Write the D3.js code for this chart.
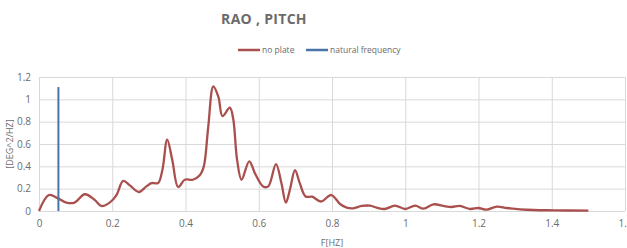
<!DOCTYPE html>
<html>
<head>
<meta charset="utf-8">
<script src="https://cdn.jsdelivr.net/npm/d3@7"></script>
<style>
  body { margin: 0; background: #fff; }
  text { font-family: "Liberation Sans Narrow", "Open Sans", sans-serif; fill: #6b6b6b; }
</style>
</head>
<body>
<div id="vis"></div>
<script>
// RAO pitch spectrum
var freq = [0, 0.027, 0.052, 0.075, 0.097, 0.125, 0.152, 0.17, 0.193, 0.211, 0.23, 0.248, 0.273, 0.293, 0.307, 0.325,
    0.337, 0.35, 0.364, 0.38, 0.398, 0.42, 0.439, 0.45, 0.462, 0.476, 0.49, 0.501, 0.521, 0.53, 0.541, 0.553,
    0.574, 0.59, 0.612, 0.626, 0.647, 0.662, 0.674, 0.685, 0.699, 0.712, 0.728, 0.746, 0.77, 0.798, 0.822,
    0.84, 0.858, 0.881, 0.904, 0.922, 0.944, 0.972, 1.0, 1.027, 1.05, 1.077, 1.104, 1.127, 1.149, 1.177,
    1.2, 1.222, 1.25, 1.277, 1.314, 1.35, 1.405, 1.5];
var noPlate = [0, 0.143, 0.113, 0.075, 0.075, 0.15, 0.10, 0.045, 0.075, 0.14, 0.27, 0.23, 0.17, 0.22, 0.25, 0.25,
    0.37, 0.64, 0.455, 0.215, 0.28, 0.28, 0.32, 0.40, 0.75, 1.115, 1.02, 0.85, 0.925, 0.83, 0.455, 0.28,
    0.445, 0.335, 0.22, 0.22, 0.42, 0.248, 0.075, 0.19, 0.365, 0.25, 0.13, 0.128, 0.085, 0.143, 0.063,
    0.03, 0.024, 0.045, 0.048, 0.03, 0.018, 0.048, 0.018, 0.048, 0.021, 0.06, 0.045, 0.036, 0.045, 0.018,
    0.027, 0.012, 0.039, 0.027, 0.015, 0.009, 0.006, 0.003];
var naturalFreq = [{ f: 0.053, v: 0 }, { f: 0.053, v: 1.11 }];

var xTicks = [0, 0.2, 0.4, 0.6, 0.8, 1, 1.2, 1.4, 1.6];
var yTicks = [0, 0.2, 0.4, 0.6, 0.8, 1, 1.2];

var W = 627, H = 248;
var margin = { top: 77, right: 2, bottom: 37, left: 39 },
    width = W - margin.left - margin.right,
    height = H - margin.top - margin.bottom;

var root = d3.select("#vis").append("svg")
    .attr("width", W)
    .attr("height", H);

var svg = root.append("g")
    .attr("transform", "translate(" + margin.left + "," + margin.top + ")");

var x = d3.scaleLinear().domain([0, 1.6]).range([0, width]);
var y = d3.scaleLinear().domain([0, 1.2]).range([height, 0]);

// grid
svg.append("g")
    .attr("transform", "translate(0," + height + ")")
    .call(d3.axisBottom(x).tickValues(xTicks).tickSize(-height).tickPadding(9)
        .tickFormat(d => d3.format("")(d)))
    .call(g => g.select(".domain").remove())
    .call(g => g.selectAll("line").attr("stroke", "#d9d9d9"))
    .call(g => g.selectAll("text").attr("font-size", 10).attr("fill", "#767676"));

svg.append("g")
    .call(d3.axisLeft(y).tickValues(yTicks).tickSize(-width).tickPadding(8)
        .tickFormat(d => d3.format("")(d)))
    .call(g => g.select(".domain").remove())
    .call(g => g.selectAll("line").attr("stroke", "#d9d9d9"))
    .call(g => g.selectAll("text").attr("font-size", 10).attr("fill", "#767676"));

var data = freq.map((f, i) => ({ f: f, v: noPlate[i] }));

svg.append("path")
    .datum(data)
    .attr("fill", "none")
    .attr("stroke", "#a9504e")
    .attr("stroke-width", 2.3)
    .attr("d", d3.line()
        .x(d => x(d.f))
        .y(d => y(d.v))
        .curve(d3.curveCatmullRom.alpha(0.5)));

svg.append("path")
    .datum(naturalFreq)
    .attr("fill", "none")
    .attr("stroke", "#4a74a8")
    .attr("stroke-width", 2)
    .attr("d", d3.line().x(d => x(d.f)).y(d => y(d.v)));

// titles
root.append("text")
    .attr("x", 264).attr("y", 24)
    .attr("text-anchor", "middle")
    .attr("font-size", 14).attr("font-weight", "bold")
    .attr("letter-spacing", 0.3)
    .style("fill", "#6b6b6b")
    .text("RAO , PITCH");

root.append("text")
    .attr("x", margin.left + width / 2).attr("y", 246)
    .attr("text-anchor", "middle")
    .attr("font-size", 9)
    .text("F[HZ]");

root.append("text")
    .attr("transform", "translate(13," + (margin.top + height / 2) + ") rotate(-90)")
    .attr("text-anchor", "middle")
    .attr("font-size", 9)
    .text("[DEG^2/HZ]");

// legend
var legend = [
    { name: "no plate", color: "#a9504e", x: 238 },
    { name: "natural frequency", color: "#4a74a8", x: 306 }
];
var lg = root.selectAll(".legend").data(legend).enter().append("g")
    .attr("class", "legend")
    .attr("transform", d => "translate(" + d.x + ",50)");
lg.append("line")
    .attr("x1", 0).attr("x2", 22)
    .attr("stroke", d => d.color)
    .attr("stroke-width", 2.5);
lg.append("text")
    .attr("x", 24).attr("y", 3)
    .attr("font-size", 8.5)
    .text(d => d.name);
</script>
</body>
</html>
